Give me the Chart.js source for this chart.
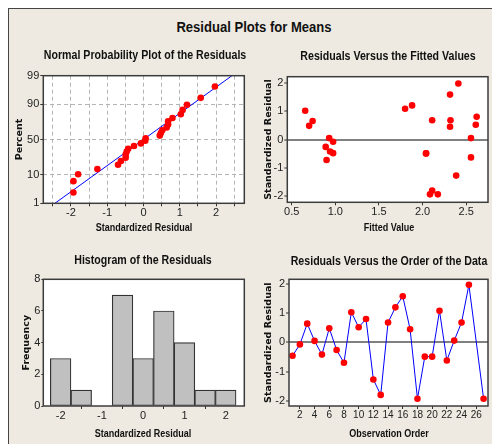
<!DOCTYPE html>
<html>
<head>
<meta charset="utf-8">
<title>Residual Plots for Means</title>
<script src="https://cdn.jsdelivr.net/npm/chart.js@4.4.0/dist/chart.umd.min.js"></script>
<style>
  body { margin:0; background:#fff; width:492px; height:444px; overflow:hidden; position:relative; }
  #frame { position:absolute; left:8px; top:8px; right:0; bottom:0; background:#eeeae1; border-left:1px solid #444; border-top:1px solid #444; }
  canvas { position:absolute; }
  .t { position:absolute; white-space:nowrap; color:#111; font-family:"Liberation Sans", Arial, sans-serif; font-weight:bold;
       transform:translate(-50%, -50%) scaleX(0.85); line-height:1; }
  .main { font-size:14.5px; transform:translate(-50%, -50%) scaleX(0.9); }
  .pt { font-size:12.5px; }
  .xt { font-size:11px; transform:translate(-50%, -50%) scaleX(0.82); }
</style>
</head>
<body>
<div id="frame"></div>
<canvas id="c1" width="250" height="200" style="left:0;top:40px"></canvas>
<canvas id="c2" width="242" height="200" style="left:250px;top:40px"></canvas>
<canvas id="c3" width="250" height="204" style="left:0;top:240px"></canvas>
<canvas id="c4" width="242" height="204" style="left:250px;top:240px"></canvas>

<div class="t main" style="left:254px;top:27px">Residual Plots for Means</div>
<div class="t pt" style="left:145px;top:55px">Normal Probability Plot of the Residuals</div>
<div class="t pt" style="left:388px;top:56px">Residuals Versus the Fitted Values</div>
<div class="t pt" style="left:142.5px;top:260px">Histogram of the Residuals</div>
<div class="t pt" style="left:388.5px;top:260.5px">Residuals Versus the Order of the Data</div>
<div class="t xt" style="left:143.8px;top:227px">Standardized Residual</div>
<div class="t xt" style="left:389px;top:227px">Fitted Value</div>
<div class="t xt" style="left:142.5px;top:432.5px">Standardized Residual</div>
<div class="t xt" style="left:388.7px;top:432.5px">Observation Order</div>

<script>
// residuals in observation order (obs 26 is missing)
const orderObs = [1,2,3,4,5,6,7,8,9,10,11,12,13,14,15,16,17,18,19,20,21,22,23,24,25,27];
const orderRes = [-0.46,-0.07,0.64,0.05,-0.42,0.48,-0.26,-0.70,1.03,0.52,0.80,-1.27,-1.80,
                  0.68,1.20,1.58,0.45,-1.93,-0.49,-0.49,1.08,-0.62,0.06,0.68,1.97,-1.93];

// residuals vs fitted
const fitX = [0.655,0.70,0.74,0.93,0.975,0.89,0.94,0.975,0.90,1.80,1.88,2.11,2.04,2.04,
              2.085,2.11,2.175,2.315,2.315,2.32,2.41,2.385,2.555,2.555,2.61,2.62];
const fitRes = [1.01,0.48,0.65,0.05,-0.08,-0.26,-0.42,-0.48,-0.72,1.08,1.20,0.68,-0.49,-0.49,
                -1.93,-1.80,-1.93,1.58,0.45,0.68,1.97,-1.27,0.05,-0.63,0.52,0.80];

// normal probability plot
const normRes = [-1.93,-1.93,-1.80,-1.27,-0.70,-0.62,-0.49,-0.49,-0.46,-0.42,-0.26,-0.07,0.05,
                 0.06,0.45,0.48,0.52,0.64,0.68,0.68,0.80,1.03,1.08,1.20,1.58,1.97];
const normPct = [2.65,6.44,10.23,14.02,17.80,21.59,25.38,29.17,32.95,36.74,40.53,44.32,48.11,
                 51.89,55.68,59.47,63.26,67.05,70.83,74.62,78.41,82.20,85.98,89.77,93.56,97.35];
const fitLineX = [-2.44, 2.44];
const fitLineP = [1, 99];
const pctTicks = [1, 10, 50, 90, 99];

// histogram
const binMids = [-2,-1.5,-1,-0.5,0,0.5,1,1.5,2];
const binCounts = [3,1,0,7,3,6,4,1,1];

Chart.defaults.font.family = '"Liberation Sans", Arial, sans-serif';
Chart.defaults.font.size = 11;
Chart.defaults.color = '#222';
Chart.defaults.animation = false;
Chart.defaults.plugins.legend.display = false;
Chart.defaults.plugins.tooltip.enabled = false;

// inverse normal cdf (Acklam) for the probability axis
function probit(p) {
  const a = [-3.969683028665376e+01, 2.209460984245205e+02, -2.759285104469687e+02, 1.383577518672690e+02, -3.066479806614716e+01, 2.506628277459239e+00];
  const b = [-5.447609879822406e+01, 1.615858368580409e+02, -1.556989798598866e+02, 6.680131188771972e+01, -1.328068155288572e+01];
  const c = [-7.784894002430293e-03, -3.223964580411365e-01, -2.400758277161838e+00, -2.549732539343734e+00, 4.374664141464968e+00, 2.938163982698783e+00];
  const d = [7.784695709041462e-03, 3.224671290700398e-01, 2.445134137142996e+00, 3.754408661907416e+00];
  const pl = 0.02425;
  let q, r;
  if (p < pl) {
    q = Math.sqrt(-2 * Math.log(p));
    return (((((c[0]*q+c[1])*q+c[2])*q+c[3])*q+c[4])*q+c[5]) / ((((d[0]*q+d[1])*q+d[2])*q+d[3])*q+1);
  }
  if (p > 1 - pl) {
    q = Math.sqrt(-2 * Math.log(1 - p));
    return -(((((c[0]*q+c[1])*q+c[2])*q+c[3])*q+c[4])*q+c[5]) / ((((d[0]*q+d[1])*q+d[2])*q+d[3])*q+1);
  }
  q = p - 0.5; r = q * q;
  return (((((a[0]*r+a[1])*r+a[2])*r+a[3])*r+a[4])*r+a[5])*q / (((((b[0]*r+b[1])*r+b[2])*r+b[3])*r+b[4])*r+1);
}

// white plot area + box around it
const boxPlugin = {
  id: 'box',
  beforeDraw(chart) {
    const a = chart.chartArea, ctx = chart.ctx;
    ctx.save();
    ctx.fillStyle = '#fff';
    ctx.fillRect(a.left, a.top, a.right - a.left, a.bottom - a.top);
    ctx.restore();
  },
  afterDraw(chart) {
    const a = chart.chartArea, ctx = chart.ctx;
    ctx.save();
    ctx.strokeStyle = '#3c3c3c';
    ctx.lineWidth = 1.5;
    ctx.strokeRect(a.left, a.top, a.right - a.left, a.bottom - a.top);
    ctx.restore();
  }
};

function yTitle(text, pad) {
  return { display: true, text: text, color: '#111',
           font: { family: '"DejaVu Sans", sans-serif', size: 9.5, weight: 'bold' }, padding: { top: pad } };
}
const zeroGrid = {
  color: c => (c.tick && c.tick.value === 0) ? '#808080' : 'rgba(0,0,0,0)',
  lineWidth: 2, tickColor: '#333', tickWidth: 1, tickLength: 3
};
const tickOnly = { drawOnChartArea: false, tickColor: '#333', tickLength: 3 };

// Normal probability plot
new Chart(document.getElementById('c1'), {
  type: 'scatter',
  data: { datasets: [
    { data: normRes.map((x, i) => ({ x: x, y: probit(normPct[i] / 100) })),
      backgroundColor: '#ff0000', borderWidth: 0, pointRadius: 3.3 },
    { type: 'line', data: fitLineX.map((x, i) => ({ x: x, y: probit(fitLineP[i] / 100) })),
      borderColor: '#0000ff', borderWidth: 1, pointRadius: 0, fill: false }
  ]},
  options: {
    responsive: false,
    layout: { padding: { top: 35.7, right: 5.7 } },
    scales: {
      x: { type: 'linear', min: -2.76, max: 2.78,
           ticks: { stepSize: 0.5, includeBounds: false, padding: 0, maxRotation: 0,
                    callback: v => Number.isInteger(v) ? String(v) : '' },
           grid: { color: '#b4b4b4', tickColor: '#333', tickLength: 3 },
           border: { display: false, dash: [4, 3] },
           afterFit: s => { s.height = 36.7; } },
      y: { min: probit(0.01), max: probit(0.99),
           afterBuildTicks: s => { s.ticks = pctTicks.map(p => ({ value: probit(p / 100) })); },
           ticks: { padding: 1, callback: (v, i) => String(pctTicks[i]) },
           grid: { color: '#b4b4b4', tickColor: '#333', tickLength: 3 },
           border: { display: false, dash: [4, 3] },
           title: yTitle('Percent', 14),
           afterFit: s => { s.width = 43.3; } }
    }
  },
  plugins: [boxPlugin]
});

// Residuals vs fitted values
new Chart(document.getElementById('c2'), {
  type: 'scatter',
  data: { datasets: [
    { data: fitX.map((x, i) => ({ x: x, y: fitRes[i] })),
      backgroundColor: '#ff0000', borderWidth: 0, pointRadius: 3.3 }
  ]},
  options: {
    responsive: false,
    layout: { padding: { top: 36.7, right: 1.3 } },
    scales: {
      x: { type: 'linear', min: 0.45, max: 2.75,
           ticks: { stepSize: 0.5, includeBounds: false, padding: 0, maxRotation: 0, callback: v => v.toFixed(1) },
           grid: tickOnly, border: { display: false },
           afterFit: s => { s.height = 37.7; } },
      y: { min: -2.21, max: 2.21,
           ticks: { stepSize: 1, includeBounds: false, padding: 1 },
           grid: zeroGrid, border: { display: false },
           title: yTitle('Standardized Residual', 12.5),
           afterFit: s => { s.width = 37.3; } }
    }
  },
  plugins: [boxPlugin]
});

// Histogram
new Chart(document.getElementById('c3'), {
  type: 'bar',
  data: { datasets: [
    { data: binMids.map((x, i) => ({ x: x, y: binCounts[i] })),
      backgroundColor: '#c0c0c0', borderColor: '#333', borderWidth: 1.2, borderSkipped: false,
      barPercentage: 1, categoryPercentage: 1 }
  ]},
  options: {
    responsive: false,
    layout: { padding: { top: 39.3, right: 5.7 } },
    scales: {
      x: { type: 'linear', offset: false, min: -2.42, max: 2.45,
           ticks: { stepSize: 1, includeBounds: false, padding: 0, maxRotation: 0 },
           grid: tickOnly, border: { display: false },
           afterFit: s => { s.height = 38; } },
      y: { min: 0, max: 8,
           ticks: { stepSize: 2, padding: 1 },
           grid: { drawOnChartArea: false, tickColor: '#333', tickLength: 2 }, border: { display: false },
           title: yTitle('Frequency', 21),
           afterFit: s => { s.width = 43.3; } }
    }
  },
  plugins: [boxPlugin]
});

// Residuals vs order
new Chart(document.getElementById('c4'), {
  type: 'line',
  data: { datasets: [
    { data: orderObs.map((x, i) => ({ x: x, y: orderRes[i] })),
      borderColor: '#0000ff', borderWidth: 1, fill: false, tension: 0,
      pointBackgroundColor: '#ff0000', pointBorderWidth: 0, pointRadius: 3.3 }
  ]},
  options: {
    responsive: false,
    layout: { padding: { top: 39.3, right: 1.3 } },
    scales: {
      x: { type: 'linear', min: 0.52, max: 27.6,
           ticks: { stepSize: 2, includeBounds: false, padding: 0, maxRotation: 0, minRotation: 0, autoSkip: false,
                    font: { size: 10 } },
           grid: tickOnly, border: { display: false },
           afterFit: s => { s.height = 38; } },
      y: { min: -2.18, max: 2.16,
           ticks: { stepSize: 1, includeBounds: false, padding: 1 },
           grid: zeroGrid, border: { display: false },
           title: yTitle('Standardized Residual', 12.5),
           afterFit: s => { s.width = 39; } }
    }
  },
  plugins: [boxPlugin]
});
</script>
</body>
</html>
